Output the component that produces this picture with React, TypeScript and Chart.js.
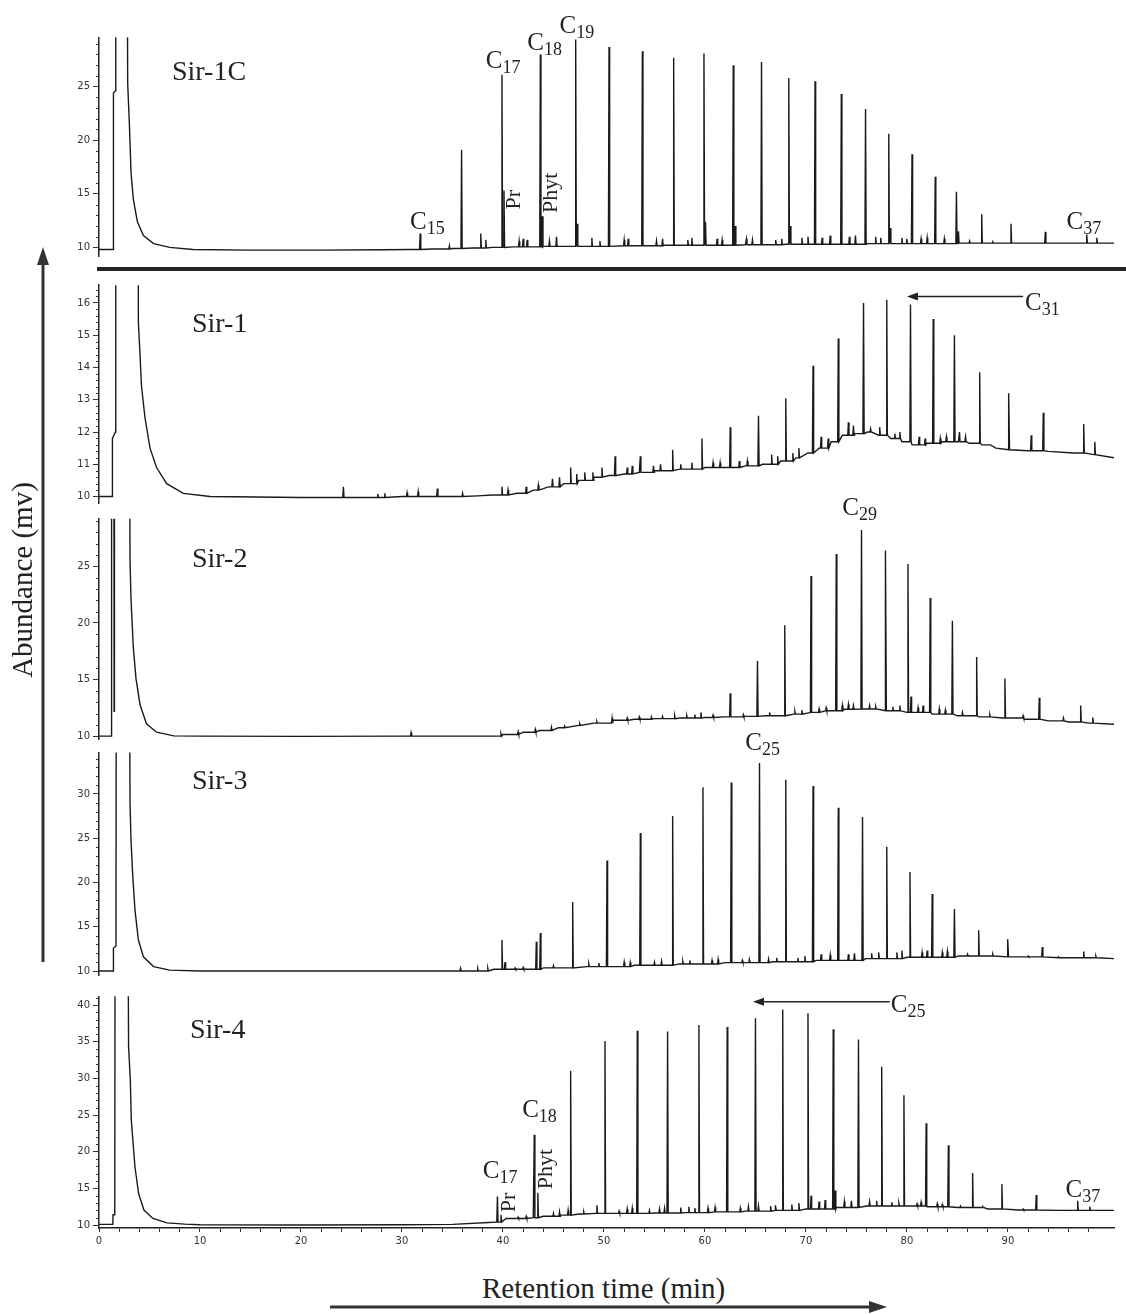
import React, { useEffect, useRef } from "react";
import { Chart, registerables } from "chart.js";

Chart.register(...registerables);

// ---------- shared axis ----------
const X_MIN = 0;
const X_MAX = 100.5;
const X_TICK_LABELS = [0, 10, 20, 30, 40, 50, 60, 70, 80, 90];
const X_MINOR_STEP = 2;
const X_LAST_TICK = 98;

const SAMPLE_NAMES = ["Sir-1C", "Sir-1", "Sir-2", "Sir-3", "Sir-4"];

// ---------- Sir-1C ----------
const sir1cBaseline: [number, number][] = [
  [0, 9.8], [1.4, 9.8], [1.43, 24.4], [1.62, 24.6], [1.66, 60], [2.72, 60], [2.84, 25.3], [3.0, 21.7],
  [3.17, 17.0], [3.4, 14.5], [3.8, 12.4], [4.4, 11.1], [5.4, 10.35], [7.0, 10.0], [9.3, 9.8], [15, 9.75],
  [22, 9.75], [28, 9.78], [31, 9.8], [33, 9.85], [35, 9.9], [37, 9.95], [39, 10.0], [41, 10.05], [44, 10.1],
  [48, 10.1], [52, 10.15], [56, 10.2], [60, 10.2], [64, 10.25], [68, 10.3], [72, 10.3], [76, 10.35],
  [80, 10.35], [85, 10.4], [90, 10.4], [95, 10.4], [100.5, 10.4],
];
const sir1cPeaks: [number, number][] = [
  [31.8, 11.3], [34.7, 10.15], [35.9, 19.1], [37.8, 11.3], [38.3, 10.7], [39.9, 26.1], [40.1, 15.3],
  [41.6, 10.6], [42.0, 10.8], [42.4, 10.7], [43.7, 28.0], [43.9, 12.9], [44.6, 10.6], [45.3, 11.0],
  [47.2, 29.4], [47.35, 12.2], [48.8, 10.9], [49.6, 10.6], [50.5, 28.7], [52.0, 10.7], [52.4, 10.8],
  [53.8, 28.3], [55.2, 10.6], [55.8, 10.8], [56.9, 27.7], [58.3, 10.7], [58.7, 10.9], [59.9, 28.1],
  [60.05, 12.4], [61.2, 10.8], [61.7, 10.7], [62.8, 27.0], [63.0, 12.0], [64.1, 10.8], [64.7, 10.7],
  [65.6, 27.3], [67.0, 10.7], [67.6, 10.8], [68.3, 25.8], [68.45, 12.0], [69.6, 10.9], [70.2, 11.0],
  [70.9, 25.5], [71.6, 10.9], [72.4, 11.1], [73.5, 24.3], [74.3, 11.0], [74.9, 11.1], [75.9, 22.9],
  [76.9, 11.0], [77.4, 10.9], [78.2, 20.6], [78.35, 11.8], [79.5, 10.9], [80.0, 10.8], [80.5, 18.7],
  [81.4, 10.8], [82.0, 10.9], [82.8, 16.6], [83.7, 10.8], [84.9, 15.2], [85.1, 11.5], [86.2, 10.6],
  [87.4, 13.1], [88.5, 10.5], [90.3, 12.2], [93.7, 11.45], [97.8, 11.2], [98.8, 10.9],
];
const sir1cYLabels = [10, 15, 20, 25];

// ---------- Sir-1 ----------
const sir1Baseline: [number, number][] = [
  [0, 10.0], [1.3, 10.0], [1.33, 11.8], [1.62, 12.0], [1.66, 40], [3.78, 40], [3.9, 15.4], [4.06, 14.4],
  [4.2, 13.45], [4.55, 12.45], [5.05, 11.5], [5.7, 10.9], [6.7, 10.4], [8.35, 10.1], [11, 10.0], [20, 9.97],
  [30, 10.0], [37.5, 10.02], [39, 10.05], [41.4, 10.1], [43, 10.2], [44.5, 10.3], [46, 10.4], [47.5, 10.5],
  [49, 10.6], [50.5, 10.65], [52, 10.7], [53.5, 10.75], [55, 10.8], [57.5, 10.85], [60, 10.9], [62.1, 10.9],
  [64, 10.95], [65.7, 11.0], [67.5, 11.1], [69, 11.2], [70.2, 11.35], [71.3, 11.5], [72.5, 11.7],
  [73.6, 11.9], [74.8, 11.95], [76.1, 12.0], [77.2, 11.9], [78.4, 11.8], [79.5, 11.7], [80.5, 11.6],
  [82, 11.65], [83.5, 11.7], [85.1, 11.7], [86.2, 11.65], [87.4, 11.6], [88.8, 11.5], [90.1, 11.45],
  [92, 11.42], [94, 11.4], [96.5, 11.35], [98.5, 11.3], [100.5, 11.2],
];
const sir1Peaks: [number, number][] = [
  [24.2, 10.3], [27.6, 10.08], [28.3, 10.1], [30.5, 10.12], [31.6, 10.15], [33.5, 10.25], [36.0, 10.1],
  [39.9, 10.3], [40.5, 10.2], [42.3, 10.3], [43.5, 10.35], [44.9, 10.55], [45.6, 10.6], [46.7, 10.9],
  [47.3, 10.7], [48.1, 10.75], [48.9, 10.75], [49.8, 10.9], [51.1, 11.25], [52.3, 10.9], [52.8, 10.95],
  [53.6, 11.25], [54.9, 10.95], [55.6, 11.0], [56.8, 11.45], [57.6, 11.0], [58.7, 11.05], [59.7, 11.8],
  [60.8, 11.05], [61.5, 11.05], [62.5, 12.15], [63.4, 11.1], [64.2, 11.1], [65.3, 12.5], [66.6, 11.3],
  [67.2, 11.25], [68.0, 13.05], [68.7, 11.35], [69.3, 11.5], [70.7, 14.05], [71.5, 11.85], [72.2, 11.8],
  [73.2, 14.9], [74.2, 12.3], [74.7, 12.2], [75.7, 16.0], [76.4, 12.1], [77.3, 12.15], [78.0, 16.1],
  [78.8, 11.95], [79.3, 12.0], [80.35, 15.95], [81.2, 11.85], [81.8, 11.8], [82.6, 15.5], [83.3, 11.8],
  [83.9, 11.85], [84.7, 15.0], [85.2, 12.0], [85.8, 11.85], [87.2, 13.85], [88.2, 11.6], [90.1, 13.2],
  [92.3, 11.9], [93.5, 12.6], [97.5, 12.25], [98.6, 11.7],
];
const sir1YLabels = [10, 11, 12, 13, 14, 15, 16];

// ---------- Sir-2 ----------
const sir2Baseline: [number, number][] = [
  [0, 10.0], [1.2, 10.0], [1.23, 12.0], [1.26, 60], [1.45, 60], [1.5, 12.2], [1.53, 60], [2.95, 60],
  [3.07, 25.6], [3.17, 22.1], [3.4, 17.8], [3.66, 15.1], [4.06, 12.8], [4.7, 11.1], [5.7, 10.35],
  [7.4, 10.03], [10, 10.0], [20, 9.98], [30, 10.0], [37, 10.0], [40, 10.15], [42, 10.35], [43.6, 10.5],
  [45.5, 10.75], [47.5, 10.95], [49, 11.15], [50.9, 11.4], [53, 11.5], [55, 11.55], [57.5, 11.6],
  [60, 11.65], [61.9, 11.7], [64, 11.75], [66, 11.8], [68.8, 11.95], [70.5, 12.1], [72, 12.25],
  [73.8, 12.38], [75.5, 12.4], [77.9, 12.24], [80, 12.1], [82.5, 11.95], [85, 11.8], [87.1, 11.7],
  [89.5, 11.6], [91.6, 11.5], [94, 11.35], [96, 11.25], [98, 11.15], [100.5, 11.05],
];
const sir2Peaks: [number, number][] = [
  [30.9, 10.3], [39.8, 10.2], [41.5, 10.4], [43.2, 10.6], [44.8, 10.8], [46.1, 10.9], [47.6, 11.1],
  [49.3, 11.3], [50.8, 11.6], [52.3, 11.6], [53.5, 11.7], [54.7, 11.7], [55.8, 11.75], [57.0, 11.8],
  [58.2, 11.8], [59.0, 11.9], [59.6, 12.1], [60.8, 11.85], [62.5, 13.8], [63.8, 11.9], [65.2, 16.65],
  [66.4, 12.1], [67.9, 19.8], [68.9, 12.2], [69.6, 12.3], [70.5, 24.15], [71.3, 12.4], [72.0, 12.5],
  [73.0, 26.1], [73.6, 12.7], [74.2, 12.8], [74.7, 12.7], [75.5, 28.2], [76.3, 12.7], [76.9, 12.6],
  [77.9, 26.4], [78.6, 12.6], [79.3, 12.7], [80.1, 25.2], [80.4, 13.5], [81.1, 12.5], [81.6, 12.7],
  [82.3, 22.2], [83.2, 12.4], [83.8, 12.3], [84.5, 20.2], [85.5, 12.1], [86.9, 17.0], [88.2, 11.9],
  [89.7, 15.1], [91.5, 11.8], [93.1, 13.4], [95.5, 11.6], [97.2, 12.7], [98.4, 11.65],
];
const sir2YLabels = [10, 15, 20, 25];

// ---------- Sir-3 ----------
const sir3Baseline: [number, number][] = [
  [0, 10.0], [1.4, 10.0], [1.43, 12.6], [1.68, 12.8], [1.72, 60], [2.97, 60], [3.07, 29.1], [3.17, 24.8],
  [3.33, 21.0], [3.56, 16.9], [3.9, 13.5], [4.4, 11.6], [5.4, 10.5], [7, 10.1], [10, 10.0], [20, 10.0],
  [35.3, 10.0], [39.1, 10.2], [44, 10.35], [48.3, 10.5], [53, 10.65], [57.5, 10.8], [62, 10.95],
  [66.7, 11.05], [71, 11.2], [75.9, 11.4], [80, 11.55], [85.1, 11.7], [90, 11.6], [95, 11.5], [100.5, 11.4],
];
const sir3Peaks: [number, number][] = [
  [35.8, 10.3], [37.5, 10.25], [38.5, 10.3], [39.9, 13.5], [40.2, 11.0], [41.2, 10.35], [42.0, 10.4],
  [43.3, 13.3], [43.7, 14.3], [45.0, 10.6], [46.9, 17.8], [48.5, 10.8], [49.5, 10.9], [50.3, 22.5],
  [52.0, 11.0], [52.6, 10.95], [53.6, 25.6], [55.0, 11.0], [55.7, 11.1], [56.8, 27.5], [57.8, 11.1],
  [58.5, 11.2], [59.8, 30.75], [60.7, 11.2], [61.3, 11.3], [62.6, 31.3], [63.7, 11.2], [64.4, 11.3],
  [65.4, 33.5], [66.3, 11.35], [67.1, 11.5], [68.0, 31.6], [69.2, 11.5], [69.9, 11.7], [70.7, 30.9],
  [71.5, 11.9], [72.4, 11.8], [73.2, 28.45], [74.2, 11.9], [74.8, 12.0], [75.6, 27.4], [76.5, 12.0],
  [77.2, 12.1], [78.0, 24.05], [79.0, 12.1], [79.5, 12.3], [80.3, 21.2], [81.5, 12.1], [82.0, 12.3],
  [82.5, 18.7], [83.5, 12.1], [84.0, 12.2], [84.7, 17.0], [86.0, 11.9], [87.1, 14.6], [88.5, 11.9],
  [90.0, 13.6], [92.0, 11.7], [93.4, 12.7], [95.0, 11.6], [97.5, 12.2], [98.7, 11.7],
];
const sir3YLabels = [10, 15, 20, 25, 30];

// ---------- Sir-4 ----------
const sir4Baseline: [number, number][] = [
  [0, 10.1], [1.37, 10.1], [1.39, 11.4], [1.56, 11.4], [1.6, 60], [2.84, 60], [2.93, 34.3], [3.1, 29.8],
  [3.2, 24.3], [3.38, 21.1], [3.56, 17.95], [3.92, 14.3], [4.45, 12.05], [5.34, 10.9], [6.73, 10.3],
  [8.5, 10.13], [10, 10.05], [20, 10.0], [30, 10.05], [35, 10.1], [38.6, 10.35], [39.3, 10.4],
  [40.3, 10.9], [42, 10.9], [43, 11.0], [44, 11.2], [45.7, 11.35], [47.5, 11.5], [49.2, 11.6], [52, 11.6],
  [55, 11.65], [58, 11.7], [61, 11.8], [64, 11.9], [67, 12.0], [70, 12.2], [73, 12.4], [76, 12.6],
  [79, 12.6], [82, 12.5], [85, 12.4], [88, 12.2], [91, 12.05], [95, 12.0], [100.5, 12.0],
];
const sir4Peaks: [number, number][] = [
  [39.45, 13.9], [39.8, 11.4], [41.5, 11.1], [42.3, 11.2], [43.1, 22.3], [43.45, 14.4], [45.0, 11.6],
  [45.6, 11.8], [46.45, 12.0], [46.7, 31.05], [48.0, 11.8], [49.3, 12.7], [50.1, 35.1], [51.5, 11.9],
  [52.3, 12.2], [52.8, 12.3], [53.3, 36.5], [54.5, 12.0], [55.5, 12.2], [56.0, 12.3], [56.3, 36.4],
  [57.6, 12.4], [58.4, 12.5], [59.0, 12.3], [59.4, 37.3], [60.3, 12.3], [61.0, 12.4], [62.2, 37.0],
  [63.5, 12.3], [64.3, 12.5], [65.0, 38.2], [65.3, 12.6], [66.5, 12.6], [67.0, 12.7], [67.7, 39.4],
  [68.6, 12.8], [69.3, 13.0], [70.2, 38.9], [70.5, 14.0], [71.3, 13.2], [71.9, 13.4], [72.7, 36.7],
  [72.9, 14.7], [73.8, 13.2], [74.5, 13.3], [75.2, 35.3], [76.3, 13.2], [77.0, 13.3], [77.5, 31.6],
  [78.5, 13.1], [79.2, 13.0], [79.7, 27.7], [81.0, 12.9], [81.4, 13.1], [81.9, 23.9], [83.0, 12.9],
  [83.5, 12.8], [84.1, 20.9], [85.3, 12.6], [86.5, 17.1], [87.5, 12.5], [89.4, 15.6], [91.5, 12.2],
  [92.8, 14.1], [96.9, 13.3], [98.1, 12.5],
];
const sir4YLabels = [10, 15, 20, 25, 30, 35, 40];

// ---------- annotations (label placements in data units) ----------
type Ann =
  | { kind: "sub"; base: string; sub: string; t: number; v: number }
  | { kind: "rot"; text: string; t: number; v: number }
  | { kind: "arrow"; t1: number; t2: number; v: number };

const sir1cNotes: Ann[] = [
  { kind: "sub", base: "C", sub: "15", t: 30.8, v: 11.76 },
  { kind: "sub", base: "C", sub: "17", t: 38.3, v: 26.76 },
  { kind: "sub", base: "C", sub: "18", t: 42.4, v: 28.43 },
  { kind: "sub", base: "C", sub: "19", t: 45.6, v: 30.0 },
  { kind: "sub", base: "C", sub: "37", t: 95.8, v: 11.76 },
  { kind: "rot", text: "Pr", t: 41.1, v: 14.44 },
  { kind: "rot", text: "Phyt", t: 44.75, v: 15.09 },
];
const sir1Notes: Ann[] = [
  { kind: "arrow", t1: 91.5, t2: 80.0, v: 16.2 },
  { kind: "sub", base: "C", sub: "31", t: 91.7, v: 15.79 },
];
const sir2Notes: Ann[] = [{ kind: "sub", base: "C", sub: "29", t: 73.6, v: 29.53 }];
const sir3Notes: Ann[] = [{ kind: "sub", base: "C", sub: "25", t: 64.0, v: 34.97 }];
const sir4Notes: Ann[] = [
  { kind: "arrow", t1: 78.3, t2: 64.75, v: 40.46 },
  { kind: "sub", base: "C", sub: "25", t: 78.4, v: 39.1 },
  { kind: "sub", base: "C", sub: "18", t: 41.9, v: 24.78 },
  { kind: "sub", base: "C", sub: "17", t: 38.0, v: 16.4 },
  { kind: "sub", base: "C", sub: "37", t: 95.7, v: 13.86 },
  { kind: "rot", text: "Pr", t: 40.6, v: 13.07 },
  { kind: "rot", text: "Phyt", t: 44.26, v: 17.64 },
];

// ---------- panel layout ----------
const PANELS = [
  { name: SAMPLE_NAMES[0], baseline: sir1cBaseline, peaks: sir1cPeaks, labels: sir1cYLabels, step: 1, minorMax: 29, yMin: 9.2, yMax: 29.6, notes: sir1cNotes, cTop: 0, cBottom: 265, aTop: 37.3, aBottom: 257.6, showX: false, nameX: 172, nameY: 80 },
  { name: SAMPLE_NAMES[1], baseline: sir1Baseline, peaks: sir1Peaks, labels: sir1YLabels, step: 0.2, minorMax: 16.4, yMin: 9.8, yMax: 16.55, notes: sir1Notes, cTop: 272, cBottom: 512, aTop: 285.2, aBottom: 506.6, showX: false, nameX: 192, nameY: 332 },
  { name: SAMPLE_NAMES[2], baseline: sir2Baseline, peaks: sir2Peaks, labels: sir2YLabels, step: 1, minorMax: 29, yMin: 9.75, yMax: 29.2, notes: sir2Notes, cTop: 495, cBottom: 748, aTop: 518.8, aBottom: 741.9, showX: false, nameX: 192, nameY: 567 },
  { name: SAMPLE_NAMES[3], baseline: sir3Baseline, peaks: sir3Peaks, labels: sir3YLabels, step: 1, minorMax: 34, yMin: 9.55, yMax: 34.7, notes: sir3Notes, cTop: 725, cBottom: 985, aTop: 752.4, aBottom: 975, showX: false, nameX: 192, nameY: 789 },
  { name: SAMPLE_NAMES[4], baseline: sir4Baseline, peaks: sir4Peaks, labels: sir4YLabels, step: 1, minorMax: 41, yMin: 9.6, yMax: 41.2, notes: sir4Notes, cTop: 985, cBottom: 1270, aTop: 996.3, aBottom: 1228, showX: true, nameX: 190, nameY: 1038 },
];

const LEFT = 99;
const RIGHT_PAD = 12;
const X_AXIS_H = 30;
const PEAK_HALF_WIDTH = 0.06;
const INK = "#222";
const SERIF = '"Liberation Serif", "Times New Roman", serif';
const TICK_FONT = { family: '"DejaVu Sans", sans-serif', size: 10 };

function buildTrace(baseline: [number, number][], peaks: [number, number][]) {
  const pts: { x: number; y: number }[] = [];
  let bi = 0;
  let pi = 0;
  let last = baseline[0][1];
  while (bi < baseline.length || pi < peaks.length) {
    if (pi >= peaks.length || (bi < baseline.length && baseline[bi][0] <= peaks[pi][0])) {
      pts.push({ x: baseline[bi][0], y: baseline[bi][1] });
      last = baseline[bi][1];
      bi++;
    } else {
      const [t, h] = peaks[pi];
      pts.push({ x: t - PEAK_HALF_WIDTH, y: last }, { x: t, y: h }, { x: t + PEAK_HALF_WIDTH, y: last });
      pi++;
    }
  }
  return pts;
}

function isLabel(v: number, labels: number[]) {
  return labels.some((l) => Math.abs(l - v) < 1e-6);
}

function overlayPlugin(notes: Ann[]) {
  return {
    id: "gcOverlay",
    afterDraw(chart: any) {
      const ctx: CanvasRenderingContext2D = chart.ctx;
      const xs = chart.scales.x;
      const ys = chart.scales.y;
      ctx.save();
      // minor ticks on the y axis
      ctx.strokeStyle = "#333";
      ctx.lineWidth = 1;
      for (const tk of ys.ticks) {
        if (tk.label === "") {
          const py = Math.round(ys.getPixelForValue(tk.value)) + 0.5;
          ctx.beginPath();
          ctx.moveTo(ys.right - 3, py);
          ctx.lineTo(ys.right, py);
          ctx.stroke();
        }
      }
      ctx.fillStyle = INK;
      ctx.strokeStyle = INK;
      for (const n of notes) {
        if (n.kind === "sub") {
          const x = xs.getPixelForValue(n.t);
          const y = ys.getPixelForValue(n.v);
          ctx.textAlign = "left";
          ctx.textBaseline = "alphabetic";
          ctx.font = `25px ${SERIF}`;
          ctx.fillText(n.base, x, y);
          const w = ctx.measureText(n.base).width;
          ctx.font = `18px ${SERIF}`;
          ctx.fillText(n.sub, x + w, y + 5);
        } else if (n.kind === "rot") {
          const x = xs.getPixelForValue(n.t);
          const y = ys.getPixelForValue(n.v);
          ctx.save();
          ctx.translate(x, y);
          ctx.rotate(-Math.PI / 2);
          ctx.textAlign = "center";
          ctx.textBaseline = "middle";
          ctx.font = `22px ${SERIF}`;
          ctx.fillText(n.text, 0, 0);
          ctx.restore();
        } else {
          const x1 = xs.getPixelForValue(n.t1);
          const x2 = xs.getPixelForValue(n.t2);
          const y = ys.getPixelForValue(n.v);
          ctx.lineWidth = 1.4;
          ctx.beginPath();
          ctx.moveTo(x1, y);
          ctx.lineTo(x2 + 6, y);
          ctx.stroke();
          ctx.beginPath();
          ctx.moveTo(x2, y);
          ctx.lineTo(x2 + 11, y - 4);
          ctx.lineTo(x2 + 11, y + 4);
          ctx.closePath();
          ctx.fill();
        }
      }
      ctx.restore();
    },
  };
}

function buildConfig(p: (typeof PANELS)[number]): any {
  const padTop = p.aTop - p.cTop;
  const padBottom = p.cBottom - p.aBottom - (p.showX ? X_AXIS_H : 0);
  return {
    type: "line",
    data: {
      datasets: [
        {
          data: buildTrace(p.baseline, p.peaks),
          borderColor: "#1a1a1a",
          borderWidth: 1.4,
          pointRadius: 0,
          tension: 0,
          fill: false,
        },
      ],
    },
    options: {
      animation: false,
      responsive: false,
      maintainAspectRatio: false,
      events: [],
      layout: { padding: { left: 0, right: RIGHT_PAD, top: padTop, bottom: padBottom } },
      plugins: { legend: { display: false }, tooltip: { enabled: false }, title: { display: false } },
      scales: {
        x: {
          type: "linear",
          min: X_MIN,
          max: X_MAX,
          display: p.showX,
          position: "bottom",
          border: { display: true, color: INK, width: 1.5 },
          grid: { drawOnChartArea: false, drawTicks: true, tickLength: 4, tickColor: "#333" },
          ticks: {
            autoSkip: false,
            maxRotation: 0,
            font: TICK_FONT,
            color: "#333",
            padding: 3,
            callback: (v: number) => (isLabel(v, X_TICK_LABELS) ? String(v) : ""),
          },
          afterBuildTicks: (s: any) => {
            const t: { value: number }[] = [];
            for (let v = X_MIN; v <= X_LAST_TICK + 1e-9; v += X_MINOR_STEP) t.push({ value: v });
            s.ticks = t;
          },
          afterFit: (s: any) => {
            s.height = p.showX ? X_AXIS_H : 0;
          },
        },
        y: {
          type: "linear",
          min: p.yMin,
          max: p.yMax,
          position: "left",
          border: { display: true, color: INK, width: 1.5 },
          grid: {
            drawOnChartArea: false,
            drawTicks: true,
            tickLength: 6,
            tickColor: (c: any) => (c.tick && isLabel(c.tick.value, p.labels) ? "#333" : "rgba(0,0,0,0)"),
          },
          ticks: {
            autoSkip: false,
            font: TICK_FONT,
            color: "#333",
            padding: 3,
            callback: (v: number) => (isLabel(v, p.labels) ? String(Math.round(v)) : ""),
          },
          afterBuildTicks: (s: any) => {
            const t: { value: number }[] = [];
            const n = Math.round((p.minorMax - p.labels[0]) / p.step);
            for (let i = 0; i <= n; i++) t.push({ value: Math.round((p.labels[0] + i * p.step) * 1000) / 1000 });
            s.ticks = t;
          },
          afterFit: (s: any) => {
            s.width = LEFT;
          },
        },
      },
    },
    plugins: [overlayPlugin(p.notes)],
  };
}

export default function App() {
  const refs = useRef<(HTMLCanvasElement | null)[]>([]);

  useEffect(() => {
    const charts = PANELS.map((p, i) => new Chart(refs.current[i] as HTMLCanvasElement, buildConfig(p)));
    return () => charts.forEach((c) => c.destroy());
  }, []);

  return (
    <div style={{ position: "absolute", left: 0, top: 0, width: 1126, height: 1314, background: "#fff", overflow: "hidden" }}>
      {PANELS.map((p, i) => (
        <canvas
          key={p.name}
          ref={(el) => {
            refs.current[i] = el;
          }}
          width={1126}
          height={p.cBottom - p.cTop}
          style={{ position: "absolute", left: 0, top: p.cTop, width: 1126, height: p.cBottom - p.cTop }}
        />
      ))}
      {PANELS.map((p) => (
        <div
          key={p.name + "-label"}
          style={{ position: "absolute", left: p.nameX, top: p.nameY - 23.45, fontFamily: SERIF, fontSize: 28, lineHeight: 1, color: INK, whiteSpace: "nowrap" }}
        >
          {p.name}
        </div>
      ))}
      <div style={{ position: "absolute", left: 97, top: 267, width: 1029, height: 4, background: INK }} />
      <div
        style={{
          position: "absolute",
          left: 22,
          top: 580,
          transform: "translate(-50%, -50%) rotate(-90deg)",
          fontFamily: SERIF,
          fontSize: 29,
          lineHeight: 1,
          color: INK,
          whiteSpace: "nowrap",
        }}
      >
        Abundance (mv)
      </div>
      <div style={{ position: "absolute", left: 482, top: 1298 - 24.3, fontFamily: SERIF, fontSize: 29, lineHeight: 1, color: INK, whiteSpace: "nowrap" }}>
        Retention time (min)
      </div>
      <svg width={1126} height={1314} style={{ position: "absolute", left: 0, top: 0, pointerEvents: "none" }}>
        <line x1={43} y1={962} x2={43} y2={262} stroke="#333" strokeWidth={3} />
        <polygon points="43,247 37,265 49,265" fill="#333" />
        <line x1={330} y1={1307} x2={872} y2={1307} stroke="#333" strokeWidth={3} />
        <polygon points="887,1307 869,1301 869,1313" fill="#333" />
      </svg>
    </div>
  );
}
